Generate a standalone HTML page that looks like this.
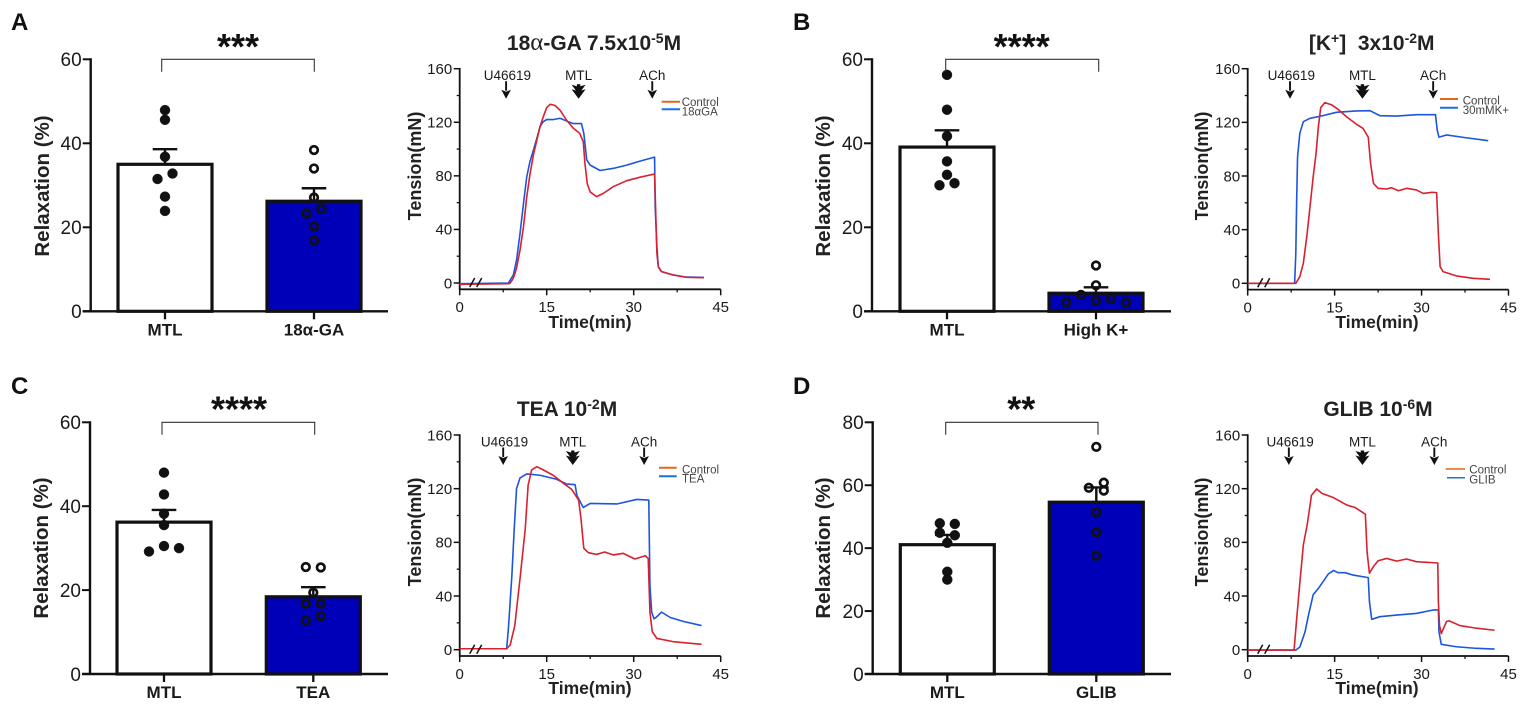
<!DOCTYPE html>
<html lang="en">
<head>
<meta charset="utf-8">
<title>Relaxation and tension figure</title>
<style>
html,body{margin:0;padding:0;background:#fff;width:1535px;height:704px;overflow:hidden}
svg{display:block;filter:blur(0.35px)}
text{font-family:"Liberation Sans",Arial,sans-serif;fill:#1a1a1a}
.letter{font-size:24px;font-weight:700;fill:#111}
.stars{font-size:36px;font-weight:700;text-anchor:middle;fill:#111}
.rel{font-size:20.5px;font-weight:700;text-anchor:middle;fill:#222}
.ten{font-size:18px;font-weight:700;text-anchor:middle;fill:#222}
.time{font-size:17.5px;font-weight:700;text-anchor:middle;fill:#222}
.ttl{font-size:21px;font-weight:700;text-anchor:middle;fill:#222}
.leg{font-size:11.5px;fill:#444}
</style>
</head>
<body>
<svg id="figure" xmlns="http://www.w3.org/2000/svg" width="1535" height="704" viewBox="0 0 1535 704">
<rect width="1535" height="704" fill="#fff"/>
<text class="letter" x="11" y="30">A</text>
<text class="letter" x="793" y="30">B</text>
<text class="letter" x="11" y="394">C</text>
<text class="letter" x="793" y="394">D</text>

<text class="stars" x="238" y="59">***</text>
<text class="stars" x="1021.7" y="59">****</text>
<text class="stars" x="239" y="421.5">****</text>
<text class="stars" x="1021.3" y="421.5">**</text>

<text class="rel" transform="translate(49 186) rotate(-90)">Relaxation (%)</text>
<text class="rel" transform="translate(830 186) rotate(-90)">Relaxation (%)</text>
<text class="rel" transform="translate(48 548) rotate(-90)">Relaxation (%)</text>
<text class="rel" transform="translate(830 548) rotate(-90)">Relaxation (%)</text>

<text class="ttl" x="594" y="50">18<tspan font-family="Liberation Serif" font-weight="400" font-size="25">α</tspan>-GA 7.5x10<tspan font-size="14" dy="-7">-5</tspan><tspan dy="7">M</tspan></text>
<text class="ttl" x="1371.7" y="50">[K<tspan font-size="14" dy="-7">+</tspan><tspan dy="7">]&#160; 3x10</tspan><tspan font-size="14" dy="-7">-2</tspan><tspan dy="7">M</tspan></text>
<text class="ttl" x="567" y="416">TEA 10<tspan font-size="14" dy="-7">-2</tspan><tspan dy="7">M</tspan></text>
<text class="ttl" x="1378" y="416">GLIB 10<tspan font-size="14" dy="-7">-6</tspan><tspan dy="7">M</tspan></text>

<text class="ten" transform="translate(421 166) rotate(-90)">Tension(mN)</text>
<text class="ten" transform="translate(1208 166) rotate(-90)">Tension(mN)</text>
<text class="ten" transform="translate(421 532) rotate(-90)">Tension(mN)</text>
<text class="ten" transform="translate(1208 532) rotate(-90)">Tension(mN)</text>

<text class="time" x="590" y="328">Time(min)</text>
<text class="time" x="1377" y="328">Time(min)</text>
<text class="time" x="590" y="694">Time(min)</text>
<text class="time" x="1377" y="694">Time(min)</text>

<g>
<line x1="661.7" x2="680" y1="101.7" y2="101.7" stroke="#e8641a" stroke-width="2"/>
<line x1="661.7" x2="680" y1="109.3" y2="109.3" stroke="#1f6fe0" stroke-width="2"/>
<text class="leg" x="681.7" y="106">Control</text>
<text class="leg" x="681.7" y="115.5">18αGA</text>
</g>
<g>
<line x1="1440" x2="1458" y1="99" y2="99" stroke="#e8641a" stroke-width="2"/>
<line x1="1440" x2="1458" y1="107.7" y2="107.7" stroke="#1f6fe0" stroke-width="2"/>
<text class="leg" x="1462.7" y="104.7">Control</text>
<text class="leg" x="1462.7" y="114">30mMK+</text>
</g>
<g>
<line x1="659" x2="676.7" y1="467.7" y2="467.7" stroke="#e8641a" stroke-width="2"/>
<line x1="659" x2="676.7" y1="476.3" y2="476.3" stroke="#1f6fe0" stroke-width="2"/>
<text class="leg" x="682" y="473.3">Control</text>
<text class="leg" x="682" y="482.7">TEA</text>
</g>
<g>
<line x1="1445.7" x2="1465" y1="469" y2="469" stroke="#e8641a" stroke-width="1.5"/>
<line x1="1447" x2="1465" y1="477.7" y2="477.7" stroke="#1f6fe0" stroke-width="1.5"/>
<text class="leg" x="1469.3" y="473.7">Control</text>
<text class="leg" x="1469.3" y="483.3">GLIB</text>
</g>
<g id="charts"></g>
</svg>
<script>
// ---------- Bar chart data ----------
const relaxTicks60 = [0, 20, 40, 60];
const relaxTicks80 = [0, 20, 40, 60, 80];

const groupsA = ["MTL", "18α-GA"];
const meansA = [35, 26.2];
const semsA = [3.6, 3.1];
const dotsA1 = [47.9, 45.6, 36.8, 32.8, 31.5, 27.3, 23.9];
const slotsA1 = [0, 0, 0, 0.5, -0.5, 0, 0];
const dotsA2 = [38.4, 34, 27.1, 24.4, 23.3, 20.2, 16.8];
const slotsA2 = [0, 0, 0, 0.5, -0.5, 0, 0];

const groupsB = ["MTL", "High K+"];
const meansB = [39.1, 4.3];
const semsB = [4, 1.4];
const dotsB1 = [56.3, 48, 41.7, 35.7, 32.5, 30.5, 30];
const slotsB1 = [0, 0, 0, 0, 0, 0.5, -0.5];
const dotsB2 = [10.9, 6.2, 3.9, 2.5, 3, 2.1, 2.1];
const slotsB2 = [0, 0, -1, 0, 1, -2, 2];

const groupsC = ["MTL", "TEA"];
const meansC = [36.2, 18.4];
const semsC = [2.9, 2.3];
const dotsC1 = [48, 42.8, 38.2, 35.5, 30.5, 30, 29.2];
const slotsC1 = [0, 0, 0, 0, 0, 1, -1];
const dotsC2 = [25.5, 25.4, 19.4, 16.8, 16.8, 13.8, 12.7];
const slotsC2 = [-0.5, 0.5, 0, -0.5, 0.5, 0.5, -0.5];

const groupsD = ["MTL", "GLIB"];
const meansD = [41.1, 54.6];
const semsD = [3.1, 4.7];
const dotsD1 = [47.9, 47.7, 44.9, 44.1, 41.7, 32.5, 30];
const slotsD1 = [-0.5, 0.5, -0.5, 0.5, 0, 0, 0];
const dotsD2 = [72.2, 60.8, 59.2, 58.3, 51.4, 45, 37.6];
const slotsD2 = [0, 0.5, -0.5, 0.5, 0, 0, 0];

// ---------- Trace chart data ----------
const tensionTicks = [0, 40, 80, 120, 160];
const tensionMinorTicks = [20, 60, 100, 140];
const timeTicks = [0, 15, 30, 45];
const timeMinorTicks = [7.5, 22.5, 37.5];
const stimulusLabels = ["U46619", "MTL", "ACh"];

const stimTimesA = [8, 20.5, 33.2];
const stimTimesB = [7.3, 19.8, 32];
const stimTimesC = [7.5, 19.5, 31.8];
const stimTimesD = [7.1, 19.8, 32.2];

const controlTimeA = [0, 8.5, 8.7, 9.25, 9.8, 10.4, 11, 11.55, 12.1, 12.7, 13.3, 13.85, 14.4, 15, 15.6, 16.4, 17.3, 18.4, 19.6, 20.7, 21.3, 21.6, 22, 22.5, 23.6, 24.8, 26.5, 28.8, 31.1, 33.6, 33.7, 34, 34.25, 34.8, 36.8, 39.1, 42.1];
const controlTensionA = [-1, -0.5, 0, 3.5, 11, 24.6, 42, 64, 80.6, 95.5, 106.7, 116.7, 124, 131, 133.4, 132.6, 129, 121.7, 115.5, 111.7, 105.5, 89, 74, 68, 64.5, 67, 72, 76.4, 79, 81.4, 67, 22, 12, 8.5, 6, 4.2, 4];
const treatedTimeA = [0, 8.4, 9.25, 9.8, 10.4, 11, 11.55, 12.1, 12.7, 13.3, 13.85, 14.4, 15, 16.1, 17.3, 18.4, 19.6, 21, 21.4, 21.9, 22.5, 24.2, 26.5, 28.8, 31.1, 33.6, 33.7, 34, 34.25, 34.8, 36.8, 39.1, 42.1];
const treatedTensionA = [-0.5, 0, 6, 17, 37, 59.5, 79, 90.5, 99, 108, 116.7, 120.4, 122, 122, 123, 121, 119, 119, 111.7, 92, 88, 84, 85.6, 88, 91, 94, 57, 27, 12, 8.5, 6, 4.4, 4.2];

const controlTimeB = [0, 8.3, 9, 9.6, 10.2, 10.75, 11.3, 11.8, 12.2, 12.6, 13.3, 14.5, 15.6, 17.1, 18.8, 19.9, 20.8, 21.2, 21.7, 22.5, 24, 24.8, 26, 27.4, 29.1, 30.3, 31.7, 32.6, 32.9, 33.2, 33.7, 36, 38.9, 41.8];
const controlTensionB = [0, 0, 5, 15, 35, 57, 79.5, 97, 117, 131, 134.7, 133, 129.7, 124, 118.5, 115.5, 109, 89.4, 74.5, 70.8, 70.3, 71.3, 69, 70.8, 69.6, 67, 67.8, 67.6, 37, 12.4, 8.7, 5.5, 3.7, 3];
const treatedTimeB = [0, 8.1, 8.3, 8.45, 8.6, 9, 9.6, 10.75, 13, 15.3, 18.8, 21.1, 22.8, 25.7, 29.1, 32.4, 32.7, 33, 34.3, 37.2, 41.5];
const treatedTensionB = [0, 0, 22, 62, 94, 112, 120.5, 123, 125, 127.5, 128.5, 128.7, 125, 124.7, 125.7, 125.7, 114.3, 109, 110.6, 108.8, 106.3];

const controlTimeC = [0, 8.1, 8.7, 9.5, 10.4, 11.3, 11.8, 12.4, 13.3, 14.4, 16.1, 17.9, 19.3, 20.5, 20.9, 21.4, 22.2, 23.6, 25, 26.5, 28.2, 30.2, 32, 32.5, 32.8, 33.2, 34, 36.8, 41.7];
const controlTensionC = [0.7, 0.7, 3.5, 18, 53, 90, 122.7, 134, 136.4, 134, 130, 124, 119.5, 111.5, 98, 75.5, 72.3, 71, 72.8, 70.6, 71.8, 67.6, 70, 68, 28, 13.4, 8.4, 6, 4];
const treatedTimeC = [0, 8.1, 8.4, 9, 9.4, 9.8, 10.4, 11.55, 13.85, 16.7, 18.4, 19.9, 20.2, 21.3, 22.5, 27.1, 30.5, 32.6, 32.8, 33.1, 33.5, 34, 34.8, 36.3, 38.6, 41.7];
const treatedTensionC = [0.7, 0.7, 16, 55.7, 90, 120, 128, 131, 130, 127, 123.5, 123, 115, 106, 109, 108.6, 112, 111.5, 48, 28, 23, 24.6, 28, 24, 21, 18];

const controlTimeD = [0, 8, 8.45, 9, 9.6, 10.3, 11, 11.9, 12.8, 14.8, 17.1, 18.5, 20.3, 20.6, 21, 21.7, 22.5, 24, 25.7, 27.4, 29.1, 32.8, 32.9, 33.1, 33.4, 34.3, 34.8, 36.6, 39.5, 42.6];
const controlTensionD = [-0.3, -0.3, 23, 50, 78, 94, 115, 119.8, 116.5, 113.3, 107.8, 106, 101, 73, 57, 62, 66.3, 68, 66, 67.6, 65.6, 64.6, 35.8, 18, 12, 21, 21.5, 18, 16, 14.5];
const treatedTimeD = [0, 8.3, 9, 9.9, 10.5, 11.3, 12.2, 13, 13.9, 14.8, 15.6, 16.8, 18.2, 20.8, 21, 21.4, 22.8, 25.7, 29.1, 32, 32.9, 33, 33.4, 36, 39.5, 42.6];
const treatedTensionD = [-0.3, -0.3, 2, 13.4, 26, 41, 45.7, 50.7, 56.4, 59, 57.4, 57.4, 55.6, 53.7, 36, 22.6, 24.6, 25.8, 27, 29.6, 29.6, 13.4, 4, 2.2, 1, 0.5];

// ---------- Drawing ----------
const SVGNS = "http://www.w3.org/2000/svg";
const root = document.getElementById("charts");

function make(parent, tag, attrs, txt) {
  const el = document.createElementNS(SVGNS, tag);
  for (const k in attrs) el.setAttribute(k, attrs[k]);
  if (txt !== undefined) el.textContent = txt;
  parent.appendChild(el);
  return el;
}

function drawBarPanel(p) {
  const g = make(root, "g", {});
  
  
  const yMax = p.ticks[p.ticks.length - 1];
  const yScale = v => p.y0 - v * (p.y0 - p.yTop) / yMax;
  const slotStep = 15;

  p.groups.forEach((name, i) => {
    const cx = p.centers[i];
    const top = yScale(p.means[i]);
    const bar = make(g, "rect", {x: cx - 47, y: top, width: 94, height: p.y0 - top,
      fill: i === 0 ? "#fff" : "#0000b8", stroke: "#111", "stroke-width": 3.2});
    
    

    const errY = yScale(p.means[i] + p.sems[i]);
    const stem = make(g, "line", {x1: cx, x2: cx, y1: top, y2: errY, stroke: "#111", "stroke-width": 2.4});
    
    
    const cap = make(g, "line", {x1: cx - 12.3, x2: cx + 12.3, y1: errY, y2: errY, stroke: "#111", "stroke-width": 2.4});
    
    

    p.dots[i].forEach((v, j) => {
      const dot = make(g, "circle", {
        cx: cx + p.slots[i][j] * slotStep, cy: yScale(v),
        r: i === 0 ? 5 : 3.8,
        fill: i === 0 ? "#111" : "none", stroke: "#111", "stroke-width": i === 0 ? 0.4 : 2.7});
      
      
    });

    const tick = make(g, "line", {x1: cx, x2: cx, y1: p.y0, y2: p.y0 + 8, stroke: "#111", "stroke-width": 2.3});
    
    
    const lab = make(g, "text", {x: cx, y: p.y0 + 24, "text-anchor": "middle", "font-size": 17, "font-weight": 700, fill: "#222"}, name);
    
    
  });

  const yAxis = make(g, "line", {x1: p.axisX, x2: p.axisX, y1: p.yTop - 1, y2: p.y0, stroke: "#111", "stroke-width": 2.4});
  
  
  const xAxis = make(g, "line", {x1: p.axisX - 8, x2: p.baseEnd, y1: p.y0, y2: p.y0, stroke: "#111", "stroke-width": 2.4});
  
  

  p.ticks.forEach(t => {
    const y = yScale(t);
    const tk = make(g, "line", {x1: p.axisX - 8, x2: p.axisX, y1: y, y2: y, stroke: "#111", "stroke-width": 2});
    
    
    const lb = make(g, "text", {x: p.axisX - 9, y: y + 6.8, "text-anchor": "end", "font-size": 19, fill: "#222"}, String(t));
    
    
  });

  const br = make(g, "path", {
    d: "M" + p.bracket[0] + " " + (p.yTop + 12.4) + "V" + p.yTop + "H" + p.bracket[1] + "V" + (p.yTop + 12.4),
    fill: "none", stroke: "#333", "stroke-width": 1.1});
  
  
}

function drawArrow(g, x, yA, id, thick) {
  const yStart = thick ? yA + 3 : yA;
  const yTip = yA + 17.5;
  const hw = thick ? 7 : 4.8;
  const headH = thick ? 9.5 : 9;
  const shaft = make(g, "line", {x1: x, x2: x, y1: yStart, y2: yTip - headH + 1, stroke: "#111", "stroke-width": thick ? 3.4 : 1.9});
  
  
  const head = make(g, "path", {
    d: "M" + (x - hw) + " " + (yTip - headH) + "L" + x + " " + yTip + "L" + (x + hw) + " " + (yTip - headH) + "L" + x + " " + (yTip - headH + 2) + "Z",
    fill: "#111"});
  
  
  if (thick) {
    const head2 = make(g, "path", {
      d: "M" + (x - hw) + " " + (yTip - headH - 4.5) + "L" + x + " " + (yTip - 4.5) + "L" + (x + hw) + " " + (yTip - headH - 4.5) + "L" + x + " " + (yTip - headH - 2.5) + "Z",
      fill: "#111"});
    
    
  }
}

function drawTracePanel(p) {
  const g = make(root, "g", {});
  
  
  const tMax = timeTicks[timeTicks.length - 1];
  const vMax = tensionTicks[tensionTicks.length - 1];
  const xs = t => p.x0 + t * (p.x1 - p.x0) / tMax;
  const ys = v => p.yZero - v * (p.yZero - p.yTop) / vMax;
  const axisY = p.yZero + 6.3;

  const yAxis = make(g, "line", {x1: p.x0, x2: p.x0, y1: p.yTop - 0.7, y2: axisY + 0.7, stroke: "#111", "stroke-width": 1.8});
  
  
  const xAxis = make(g, "line", {x1: p.x0, x2: p.x1, y1: axisY, y2: axisY, stroke: "#111", "stroke-width": 1.8});
  
  

  tensionTicks.forEach(t => {
    const tk = make(g, "line", {x1: p.x0 - 6, x2: p.x0, y1: ys(t), y2: ys(t), stroke: "#111", "stroke-width": 1.5});
    
    
    const lb = make(g, "text", {x: p.x0 - 7.5, y: ys(t) + 5.3, "text-anchor": "end", "font-size": 15, fill: "#222"}, String(t));
    
    
  });
  tensionMinorTicks.forEach(t => {
    const tk = make(g, "line", {x1: p.x0 - 3, x2: p.x0, y1: ys(t), y2: ys(t), stroke: "#111", "stroke-width": 1.3});
    
    
  });
  timeTicks.forEach(t => {
    const tk = make(g, "line", {x1: xs(t), x2: xs(t), y1: axisY, y2: axisY + 6, stroke: "#111", "stroke-width": 1.5});
    
    
    const lb = make(g, "text", {x: xs(t), y: axisY + 22.8, "text-anchor": "middle", "font-size": 15, fill: "#222"}, String(t));
    
    
  });
  timeMinorTicks.forEach(t => {
    const tk = make(g, "line", {x1: xs(t), x2: xs(t), y1: axisY, y2: axisY + 3, stroke: "#111", "stroke-width": 1.3});
    
    
  });

  const pathOf = (ts, vs) => ts.map((t, i) => (i ? "L" : "M") + xs(t).toFixed(2) + " " + ys(vs[i]).toFixed(2)).join("");
  const treated = make(g, "path", {d: pathOf(p.treatedT, p.treatedV), fill: "none", stroke: "#1c55e0", "stroke-width": 1.6, "stroke-linejoin": "round"});
  
  
  const control = make(g, "path", {d: pathOf(p.controlT, p.controlV), fill: "none", stroke: "#d8202e", "stroke-width": 1.6, "stroke-linejoin": "round"});
  
  

  [0, 7].forEach(dx => {
    const mark = make(g, "line", {x1: p.x0 + 10 + dx, x2: p.x0 + 15 + dx, y1: p.yZero + 4, y2: p.yZero - 5, stroke: "#111", "stroke-width": 1.5});
    
    
  });

  p.stim.forEach((t, i) => {
    const x = xs(t);
    const lb = make(g, "text", {x: x + (i === 0 ? 1.3 : 0), y: p.yTop + 11.5, "text-anchor": "middle", "font-size": 13.5, fill: "#222"}, stimulusLabels[i]);
    
    
    drawArrow(g, x, p.yTop + 12.5, p.id, i === 1);
  });
}

drawBarPanel({id: "a", ticks: relaxTicks60, groups: groupsA, means: meansA, sems: semsA,
  dots: [dotsA1, dotsA2], slots: [slotsA1, slotsA2],
  axisX: 90.7, baseEnd: 388, yTop: 59.3, y0: 311.3, centers: [165, 314], bracket: [161.7, 314.3]});
drawBarPanel({id: "b", ticks: relaxTicks60, groups: groupsB, means: meansB, sems: semsB,
  dots: [dotsB1, dotsB2], slots: [slotsB1, slotsB2],
  axisX: 872, baseEnd: 1171, yTop: 59.3, y0: 311.3, centers: [947, 1096], bracket: [945.7, 1098.7]});
drawBarPanel({id: "c", ticks: relaxTicks60, groups: groupsC, means: meansC, sems: semsC,
  dots: [dotsC1, dotsC2], slots: [slotsC1, slotsC2],
  axisX: 90, baseEnd: 388, yTop: 422.3, y0: 674, centers: [164, 313.3], bracket: [162, 314.7]});
drawBarPanel({id: "d", ticks: relaxTicks80, groups: groupsD, means: meansD, sems: semsD,
  dots: [dotsD1, dotsD2], slots: [slotsD1, slotsD2],
  axisX: 872.7, baseEnd: 1171, yTop: 422.3, y0: 674, centers: [947.3, 1096.3], bracket: [945.7, 1098]});

drawTracePanel({id: "a", x0: 459.7, x1: 720.7, yTop: 68.7, yZero: 283, stim: stimTimesA,
  controlT: controlTimeA, controlV: controlTensionA, treatedT: treatedTimeA, treatedV: treatedTensionA});
drawTracePanel({id: "b", x0: 1247.7, x1: 1508.5, yTop: 68.7, yZero: 283.3, stim: stimTimesB,
  controlT: controlTimeB, controlV: controlTensionB, treatedT: treatedTimeB, treatedV: treatedTensionB});
drawTracePanel({id: "c", x0: 459.7, x1: 720.7, yTop: 435, yZero: 649.7, stim: stimTimesC,
  controlT: controlTimeC, controlV: controlTensionC, treatedT: treatedTimeC, treatedV: treatedTensionC});
drawTracePanel({id: "d", x0: 1247.7, x1: 1508.5, yTop: 435, yZero: 649.7, stim: stimTimesD,
  controlT: controlTimeD, controlV: controlTensionD, treatedT: treatedTimeD, treatedV: treatedTensionD});
</script>
</body>
</html>
